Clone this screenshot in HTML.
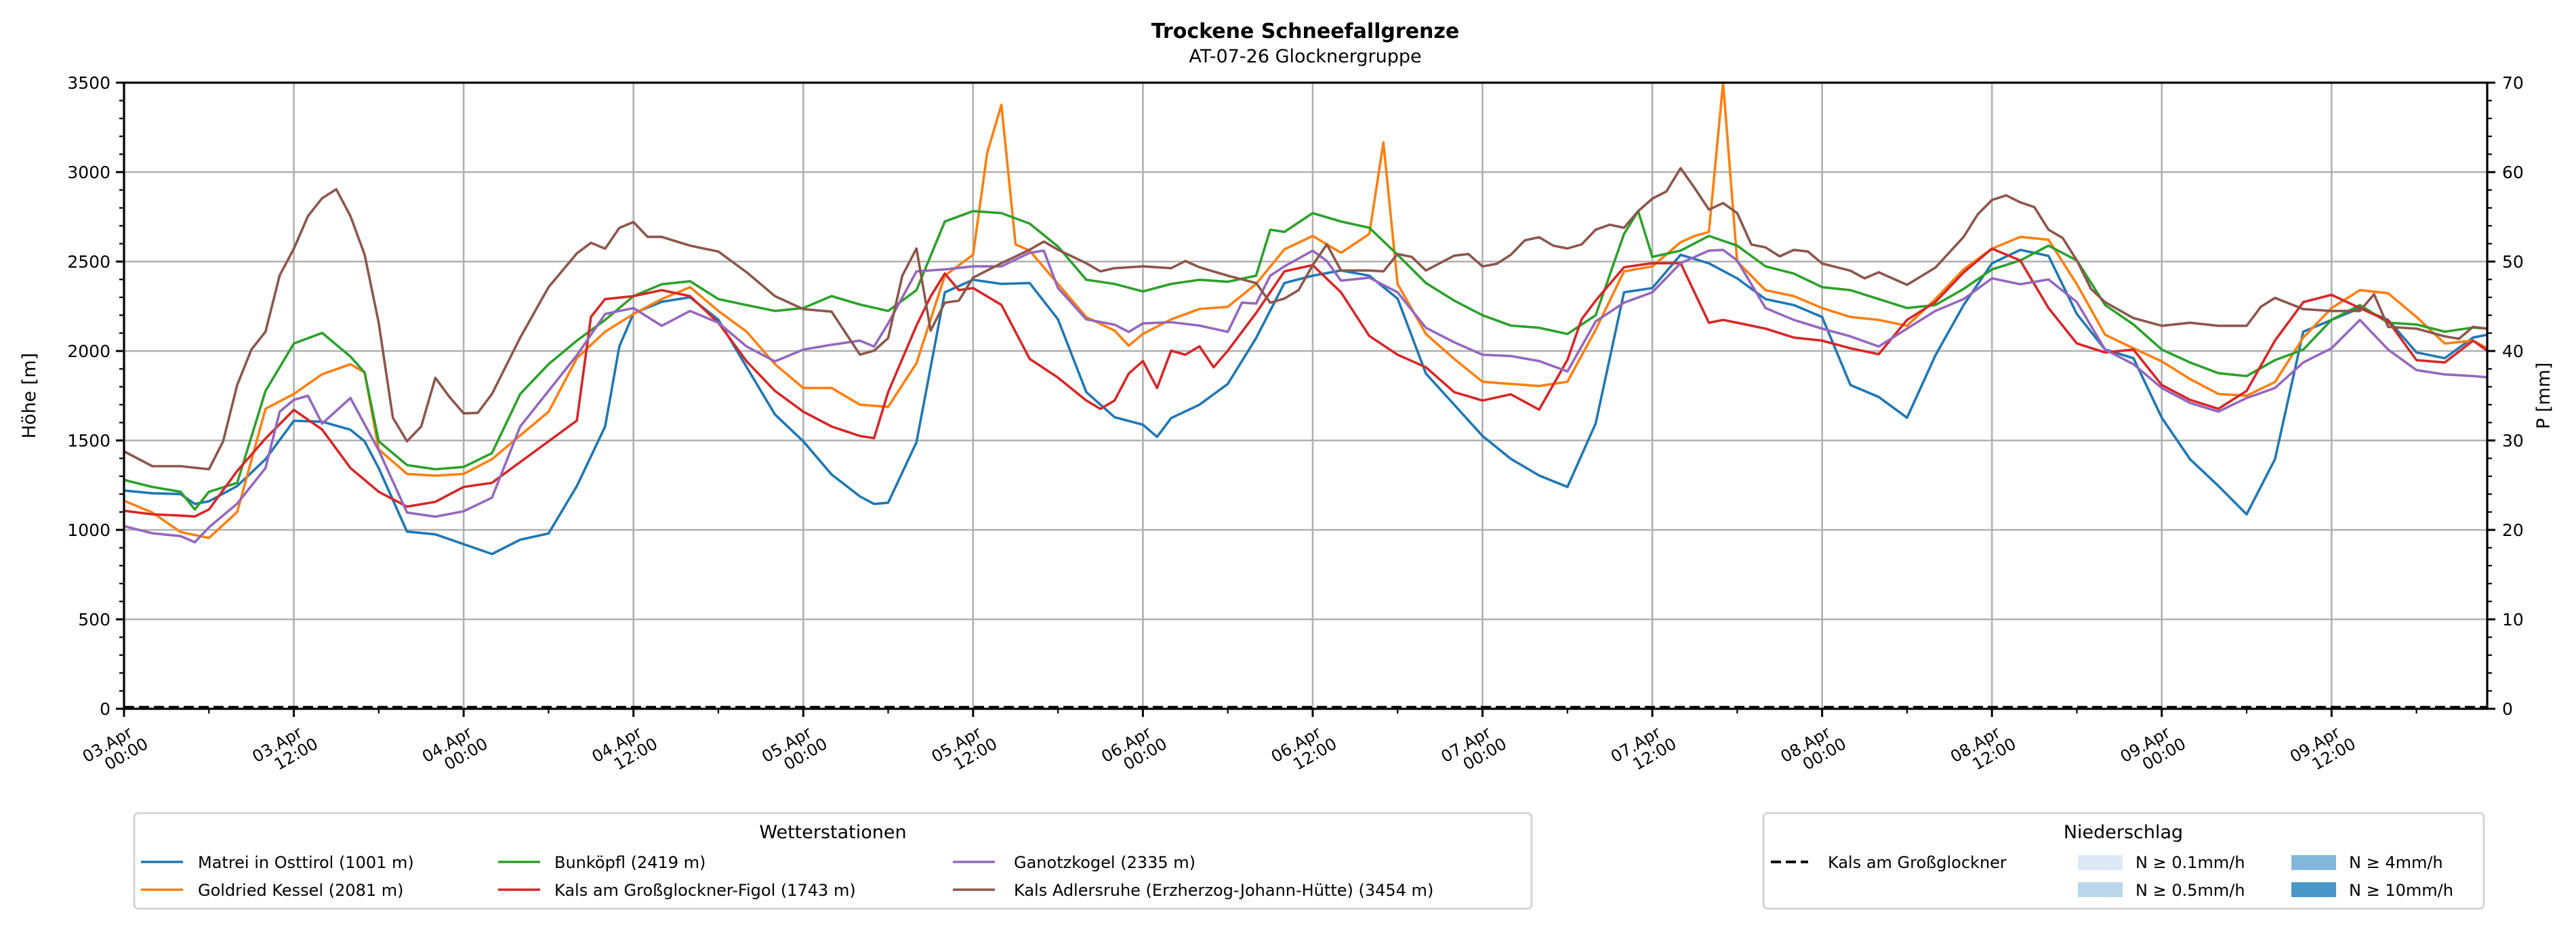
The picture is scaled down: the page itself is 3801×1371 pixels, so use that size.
<!DOCTYPE html>
<html><head><meta charset="utf-8"><style>
html,body{margin:0;padding:0;background:#fff;}
svg{display:block;font-family:"DejaVu Sans","Liberation Sans",sans-serif;}
</style></head><body>
<svg id="chart" xmlns="http://www.w3.org/2000/svg" width="3801" height="1371" viewBox="0 0 3801 1371">
<text x="1926" y="56" font-size="30" font-weight="bold" text-anchor="middle">Trockene Schneefallgrenze</text>
<text x="1926" y="92" font-size="27" text-anchor="middle">AT-07-26 Glocknergruppe</text>
<g id="grid"></g>
<g id="series"></g>
<g id="axes"></g>
<text transform="translate(52,584) rotate(-90)" font-size="27" text-anchor="middle">Höhe [m]</text>
<text transform="translate(3762,584) rotate(-90)" font-size="27" text-anchor="middle">P [mm]</text>
<g id="legend1">
<rect x="198" y="1200" width="2062" height="141" rx="6" fill="#fff" stroke="#d5d5d5" stroke-width="3"/>
<text x="1229" y="1237" font-size="27" text-anchor="middle">Wetterstationen</text>
</g>
<g id="legend2">
<rect x="2602" y="1200" width="1063" height="141" rx="6" fill="#fff" stroke="#d5d5d5" stroke-width="3"/>
<text x="3133" y="1237" font-size="27" text-anchor="middle">Niederschlag</text>
<line x1="2613" y1="1272" x2="2668" y2="1272" stroke="#000" stroke-width="4" stroke-dasharray="15,7"/>
<text x="2697" y="1281" font-size="24">Kals am Großglockner</text>
<rect x="3066" y="1262" width="66" height="22" fill="#dbe9f6"/>
<text x="3151" y="1281" font-size="24">N ≥ 0.1mm/h</text>
<rect x="3066" y="1302" width="66" height="22" fill="#bad6eb"/>
<text x="3151" y="1322" font-size="24">N ≥ 0.5mm/h</text>
<rect x="3381" y="1262" width="66" height="22" fill="#81b7db"/>
<text x="3466" y="1281" font-size="24">N ≥ 4mm/h</text>
<rect x="3381" y="1302" width="66" height="22" fill="#4a98c9"/>
<text x="3466" y="1322" font-size="24">N ≥ 10mm/h</text>
</g>
</svg>
<script>
const stationNames = ["Matrei in Osttirol (1001 m)","Goldried Kessel (2081 m)","Bunköpfl (2419 m)","Kals am Großglockner-Figol (1743 m)","Ganotzkogel (2335 m)","Kals Adlersruhe (Erzherzog-Johann-Hütte) (3454 m)"];
const stationColors = ["#1f77b4","#ff7f0e","#2ca02c","#d62728","#9467bd","#8c564b"];
const xTickLabels = ["03.Apr|00:00","03.Apr|12:00","04.Apr|00:00","04.Apr|12:00","05.Apr|00:00","05.Apr|12:00","06.Apr|00:00","06.Apr|12:00","07.Apr|00:00","07.Apr|12:00","08.Apr|00:00","08.Apr|12:00","09.Apr|00:00","09.Apr|12:00"];
const yTicks = [0,500,1000,1500,2000,2500,3000,3500];
const y2Ticks = [0,10,20,30,40,50,60,70];
const precipHours = [0,167];
const precipValues = [0,0];

const hMatrei = [0,2,4,5,6,8,10,12,14,16,17,18,20,22,24,26,28,30,32,34,35,36,38,40,42,44,46,48,50,52,53,54,56,58,60,62,64,66,68,70,72,73,74,76,78,80,82,84,86,88,90,92,94,96,98,100,102,104,106,108,110,112,114,116,118,120,122,124,126,128,130,132,134,136,138,140,142,144,146,148,150,152,154,156,158,160,162,164,166,167];
const matrei = [1220,1205,1200,1145,1160,1245,1395,1610,1605,1560,1495,1345,990,975,920,865,945,980,1245,1578,2025,2210,2275,2300,2175,1910,1645,1495,1310,1187,1145,1152,1490,2328,2398,2375,2380,2177,1770,1630,1588,1520,1625,1700,1816,2072,2380,2421,2450,2421,2293,1874,1700,1525,1397,1304,1240,1595,2328,2352,2538,2490,2406,2290,2257,2190,1810,1743,1627,1975,2257,2490,2565,2532,2207,2008,1960,1627,1395,1246,1087,1395,2108,2174,2240,2174,1992,1960,2075,2091];

const hGoldried = [0,2,4,6,8,10,12,14,16,17,18,20,22,24,26,28,30,32,34,36,38,40,42,44,46,48,50,52,54,56,58,60,61,62,63,64,66,68,70,71,72,74,76,78,80,82,84,86,88,89,90,92,94,96,98,100,102,104,106,108,110,111,112,113,114,116,118,120,122,124,126,128,130,132,134,136,138,140,142,144,146,148,150,152,154,156,158,160,162,164,166,167];
const goldried = [1163,1097,988,955,1100,1677,1760,1870,1926,1880,1450,1313,1303,1313,1395,1528,1660,1960,2108,2207,2290,2357,2224,2108,1926,1793,1793,1700,1688,1932,2421,2538,3108,3376,2596,2561,2375,2189,2114,2030,2095,2177,2235,2247,2375,2568,2643,2549,2654,3166,2375,2095,1956,1828,1816,1804,1828,2119,2445,2473,2608,2643,2666,3500,2500,2340,2307,2240,2190,2174,2141,2290,2456,2572,2638,2622,2373,2091,2015,1942,1843,1760,1750,1826,2075,2240,2340,2323,2190,2042,2058,2015];

const hBunkoepfl = [0,2,4,5,6,8,10,12,14,16,17,18,20,22,24,26,28,30,32,34,36,38,40,42,44,46,48,50,52,54,56,58,60,62,64,66,68,70,72,74,76,78,80,81,82,84,86,88,90,92,94,96,98,100,102,104,106,107,108,110,112,114,116,118,120,122,124,126,128,130,132,134,136,138,140,142,144,146,148,150,152,154,156,158,160,162,164,166,167];
const bunkoepfl = [1279,1240,1213,1114,1213,1263,1777,2042,2101,1969,1880,1495,1362,1339,1352,1429,1760,1926,2058,2174,2307,2373,2390,2290,2257,2224,2240,2307,2260,2224,2340,2724,2782,2771,2712,2584,2398,2375,2333,2375,2398,2387,2421,2678,2666,2771,2724,2689,2538,2380,2282,2200,2142,2130,2095,2200,2654,2782,2526,2561,2643,2589,2473,2433,2357,2340,2290,2240,2257,2347,2456,2506,2589,2506,2257,2148,2008,1936,1876,1860,1949,2008,2174,2257,2158,2148,2108,2131,2125];

const hFigol = [0,2,4,5,6,8,10,12,14,16,18,20,22,24,26,28,30,32,33,34,36,38,40,42,44,46,48,50,52,53,54,56,57,58,59,60,62,64,66,68,69,70,71,72,73,74,75,76,77,78,80,82,84,86,88,90,92,94,96,98,100,102,103,104,106,108,110,112,113,114,116,118,120,122,124,126,128,130,132,134,136,138,140,142,144,146,148,150,152,154,156,158,160,162,164,166,167];
const figol = [1107,1087,1080,1075,1114,1329,1511,1671,1561,1346,1213,1130,1157,1240,1263,1379,1495,1611,2191,2290,2307,2340,2307,2158,1942,1777,1661,1578,1525,1513,1770,2142,2305,2433,2340,2352,2258,1956,1851,1723,1676,1723,1874,1944,1793,2002,1979,2026,1909,2002,2212,2445,2480,2328,2084,1979,1909,1770,1723,1758,1672,1950,2177,2282,2468,2491,2491,2158,2174,2158,2125,2075,2058,2015,1982,2174,2273,2439,2572,2506,2240,2042,1992,2008,1810,1727,1677,1777,2058,2273,2314,2240,2168,1949,1936,2058,2002];

const hGanotz = [0,2,4,5,6,8,10,11,12,13,14,16,18,20,22,24,26,28,30,32,34,36,38,40,42,44,46,48,50,52,53,54,56,58,60,62,64,65,66,68,70,71,72,74,76,78,79,80,81,82,84,85,86,88,90,92,94,96,98,100,102,104,106,108,110,112,113,114,116,118,120,122,124,126,128,130,132,134,136,138,140,142,144,146,148,150,152,154,156,158,160,162,164,166,167];
const ganotz = [1021,981,965,931,1014,1147,1346,1661,1727,1750,1594,1737,1445,1097,1074,1104,1180,1578,1777,1976,2207,2240,2141,2224,2158,2025,1942,2008,2035,2058,2025,2154,2445,2456,2473,2473,2549,2561,2352,2177,2147,2107,2154,2161,2142,2107,2270,2265,2421,2473,2561,2503,2393,2410,2328,2130,2049,1979,1972,1944,1886,2165,2270,2328,2491,2561,2565,2506,2240,2174,2125,2082,2025,2125,2224,2290,2406,2373,2400,2273,2008,1926,1793,1710,1661,1737,1793,1936,2015,2174,2008,1893,1869,1860,1853];

const hAdlersruhe = [0,2,4,6,7,8,9,10,11,12,13,14,15,16,17,18,19,20,21,22,23,24,25,26,28,30,32,33,34,35,36,37,38,40,42,44,46,48,50,52,53,54,55,56,57,58,59,60,62,64,65,66,68,69,70,72,74,75,76,78,80,81,82,83,84,85,86,88,89,90,91,92,94,95,96,97,98,99,100,101,102,103,104,105,106,107,108,109,110,111,112,113,114,115,116,117,118,119,120,122,123,124,126,128,130,131,132,133,134,135,136,137,138,139,140,142,144,146,148,150,151,152,154,156,158,159,160,162,164,165,166,167];
const adlersruhe = [1439,1356,1356,1339,1495,1810,2008,2108,2423,2572,2754,2854,2904,2754,2539,2158,1627,1495,1578,1850,1743,1651,1654,1760,2075,2357,2546,2605,2572,2688,2721,2638,2638,2589,2556,2440,2307,2234,2220,1980,2002,2072,2421,2573,2114,2270,2282,2410,2491,2566,2612,2566,2491,2445,2463,2473,2463,2503,2468,2421,2380,2270,2293,2340,2480,2596,2450,2450,2445,2542,2526,2450,2533,2542,2473,2487,2538,2619,2636,2589,2573,2596,2678,2706,2689,2782,2852,2892,3022,2910,2790,2827,2771,2595,2579,2529,2565,2556,2489,2449,2406,2440,2370,2466,2638,2764,2844,2870,2831,2804,2678,2632,2506,2347,2273,2184,2141,2158,2141,2141,2247,2297,2234,2224,2224,2317,2135,2125,2082,2068,2135,2125];

const seriesHours = [hMatrei,hGoldried,hBunkoepfl,hFigol,hGanotz,hAdlersruhe];
const seriesValues = [matrei,goldried,bunkoepfl,figol,ganotz,adlersruhe];

const NS="http://www.w3.org/2000/svg";
const L=183,R=3670,T=122,B=1046;
const HMAX=167, YMAX=3500, Y2MAX=70;
function xScale(h){return L+(h/HMAX)*(R-L);}
function yScale(v){return B-(v/YMAX)*(B-T);}
function y2Scale(v){return B-(v/Y2MAX)*(B-T);}
function mk(tag,attrs,parent){const e=document.createElementNS(NS,tag);for(const k in attrs)e.setAttribute(k,attrs[k]);parent.appendChild(e);return e;}

const grid=document.getElementById('grid');
const axes=document.getElementById('axes');
const series=document.getElementById('series');

// grid lines
yTicks.forEach(v=>{
  const g=mk('line',{x1:L,x2:R,y1:yScale(v),y2:yScale(v),stroke:'#b0b0b0','stroke-width':2.6},grid);
  
  
});
xTickLabels.forEach((t,i)=>{
  const x=xScale(i*12);
  const g=mk('line',{x1:x,x2:x,y1:T,y2:B,stroke:'#b0b0b0','stroke-width':2.6},grid);
  
  
});

// series lines
seriesValues.forEach((vals,si)=>{
  const hrs=seriesHours[si];
  const pts=vals.map((v,i)=>xScale(hrs[i]).toFixed(1)+','+yScale(v).toFixed(1)).join(' ');
  const p=mk('polyline',{points:pts,fill:'none',stroke:stationColors[si],'stroke-width':3.6,'stroke-linejoin':'round'},series);
  
  
});

// precipitation line (dashed at zero)
{
  const pts=precipValues.map((v,i)=>xScale(precipHours[i]).toFixed(1)+','+(y2Scale(v)-2).toFixed(1)).join(' ');
  const p=mk('polyline',{points:pts,fill:'none',stroke:'#000','stroke-width':4.5,'stroke-dasharray':'15,7'},series);
  
  
}

// frame
const frame=mk('rect',{x:L,y:T,width:R-L,height:B-T,fill:'none',stroke:'#000','stroke-width':3.2},axes);



// left y ticks
for(let v=0;v<=YMAX;v+=100){
  const major=v%500===0;
  mk('line',{x1:L,x2:L-(major?12:7),y1:yScale(v),y2:yScale(v),stroke:'#000','stroke-width':major?3:2.2},axes);
}
yTicks.forEach(v=>{
  const t=mk('text',{x:L-20,y:yScale(v)+9,'font-size':25,'text-anchor':'end'},axes);
  t.textContent=v;
  
  
});
// right y ticks
for(let v=0;v<=Y2MAX;v+=2){
  const major=v%10===0;
  mk('line',{x1:R,x2:R+(major?12:7),y1:y2Scale(v),y2:y2Scale(v),stroke:'#000','stroke-width':major?3:2.2},axes);
}
y2Ticks.forEach(v=>{
  const t=mk('text',{x:R+22,y:y2Scale(v)+9,'font-size':25,'text-anchor':'start'},axes);
  t.textContent=v;
  
  
});
// x ticks
for(let h=0;h<=HMAX;h+=6){
  const major=h%12===0;
  mk('line',{x1:xScale(h),x2:xScale(h),y1:B,y2:B+(major?12:7),stroke:'#000','stroke-width':major?3:2.2},axes);
}
xTickLabels.forEach((lab,i)=>{
  const x=xScale(i*12);
  const parts=lab.split('|');
  const t=mk('text',{transform:`translate(${x+14},${B+40}) rotate(-30)`,'font-size':24,'text-anchor':'end'},axes);
  
  
  const a=mk('tspan',{x:0,dy:0},t);a.textContent=parts[0];
  const b=mk('tspan',{x:12,dy:26},t);b.textContent=parts[1];
});

// station legend
const lg=document.getElementById('legend1');
const colX=[[208,292],[735,818],[1406,1496]];
stationNames.forEach((n,i)=>{
  const col=Math.floor(i/2), row=i%2;
  const y=row===0?1272:1313;
  const ln=mk('line',{x1:colX[col][0],x2:colX[col][0]+62,y1:y,y2:y,stroke:stationColors[i],'stroke-width':3.6},lg);
  
  
  const t=mk('text',{x:colX[col][1],y:y+9,'font-size':24},lg);
  t.textContent=n;
  
  
});
</script>
</body></html>
